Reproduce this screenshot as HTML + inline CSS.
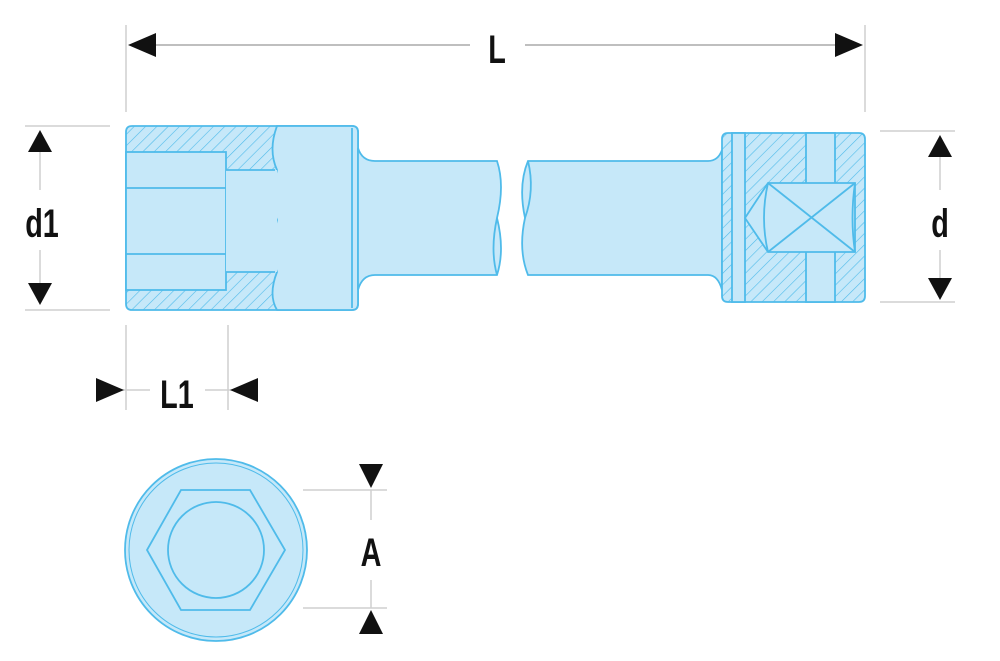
<!DOCTYPE html>
<html><head><style>html,body{margin:0;padding:0;background:#fff}svg{display:block}</style></head>
<body>
<svg width="1000" height="661" viewBox="0 0 1000 661" xmlns="http://www.w3.org/2000/svg">
<defs>
<pattern id="h" width="8" height="8" patternUnits="userSpaceOnUse" patternTransform="rotate(45)">
<rect width="8" height="8" fill="#c6e8f9"/><line x1="0" y1="0" x2="0" y2="8" stroke="#4fbbea" stroke-width="1.2"/>
</pattern>
</defs>
<g stroke="#cfcfcf" stroke-width="1.5" fill="none">
<line x1="126" y1="25" x2="126" y2="112"/><line x1="865" y1="25" x2="865" y2="112"/>
<line x1="25" y1="126" x2="110" y2="126"/><line x1="25" y1="310" x2="110" y2="310"/>
<line x1="880" y1="131" x2="955" y2="131"/><line x1="880" y1="302" x2="955" y2="302"/>
<line x1="126" y1="325" x2="126" y2="410"/><line x1="228" y1="325" x2="228" y2="410"/>
<line x1="303" y1="490" x2="387" y2="490"/><line x1="303" y1="608" x2="387" y2="608"/>
<line x1="155" y1="45" x2="470" y2="45" stroke="#aaa"/><line x1="525" y1="45" x2="838" y2="45" stroke="#aaa"/>
<line x1="40" y1="152" x2="40" y2="190"/><line x1="40" y1="250" x2="40" y2="285"/>
<line x1="940" y1="155" x2="940" y2="190"/><line x1="940" y1="250" x2="940" y2="278"/>
<line x1="371" y1="490" x2="371" y2="520"/><line x1="371" y1="580" x2="371" y2="608"/>
<line x1="120" y1="390" x2="150" y2="390"/><line x1="205" y1="390" x2="235" y2="390"/>
</g>
<g fill="#111">
<polygon points="128,45 156,33 156,57"/><polygon points="863,45 835,33 835,57"/>
<polygon points="40,130 28,152 52,152"/><polygon points="40,305 28,283 52,283"/>
<polygon points="940,135 928,157 952,157"/><polygon points="940,300 928,278 952,278"/>
<polygon points="124,390 96,378 96,402"/><polygon points="230,390 258,378 258,402"/>
<polygon points="371,488 359,464 383,464"/><polygon points="371,610 359,634 383,634"/>
</g>
<g font-family="Liberation Sans, sans-serif" font-size="40" font-weight="bold" fill="#111" text-anchor="middle">
<text x="497" y="63" transform="translate(497 0) scale(0.72 1) translate(-497 0)">L</text>
<text x="42" y="237" transform="translate(42 0) scale(0.72 1) translate(-42 0)">d1</text>
<text x="940" y="237" transform="translate(940 0) scale(0.72 1) translate(-940 0)">d</text>
<text x="177" y="408" transform="translate(177 0) scale(0.72 1) translate(-177 0)">L1</text>
<text x="371" y="566" transform="translate(371 0) scale(0.72 1) translate(-371 0)">A</text>
</g>
<g stroke="#4fbbea" stroke-width="1.8">
<path d="M132,126 H352 Q358,126 358,132 V304 Q358,310 352,310 H132 Q126,310 126,304 V132 Q126,126 132,126Z" fill="url(#h)"/>
<path d="M277,126 Q268,150 277,170 Q268,200 277,220 Q268,250 277,272 Q268,295 277,310 H352 Q358,310 358,304 V132 Q358,126 352,126Z" fill="#c6e8f9"/>
<rect x="126" y="152" width="100" height="138" fill="#c6e8f9"/>
<rect x="226" y="170" width="51" height="102" fill="#c6e8f9" stroke="none"/>
<line x1="226" y1="170" x2="275" y2="170"/><line x1="226" y1="272" x2="275" y2="272"/>
<line x1="126" y1="188" x2="226" y2="188"/><line x1="126" y1="254" x2="226" y2="254"/>
<line x1="352" y1="128" x2="352" y2="308"/>
<path d="M358,148 Q362,161 375,161 H497 Q505,185 497,218 Q505,250 497,275 H375 Q362,275 358,290Z" fill="#c6e8f9"/>
<path d="M497,218 Q490,250 497,275" fill="none"/>
<path d="M528,161 H708 Q718,161 722,150 V290 Q718,275 708,275 H528 Q518,250 525,218 Q518,185 528,161Z" fill="#c6e8f9"/>
<path d="M528,161 Q535,190 525,218" fill="none"/>
<path d="M728,133 H859 Q865,133 865,139 V296 Q865,302 859,302 H728 Q722,302 722,296 V139 Q722,133 728,133Z" fill="url(#h)"/>
<rect x="806" y="133" width="29" height="169" fill="#c6e8f9"/>
<rect x="732" y="133" width="13" height="169" fill="#c6e8f9"/>
<path d="M768,183 H855 V252 H768 L745,218Z" fill="#c6e8f9"/>
<line x1="768" y1="183" x2="855" y2="252"/><line x1="768" y1="252" x2="855" y2="183"/>
<path d="M768,183 Q760,218 768,252" fill="none"/>
<path d="M855,183 Q850,218 855,252" fill="none"/>
<circle cx="216" cy="550" r="91" fill="#c6e8f9"/>
<circle cx="216" cy="550" r="87" fill="none" stroke-width="1"/>
<polygon points="147,550 181,490 250,490 285,550 250,610 181,610" fill="#c6e8f9"/>
<circle cx="216" cy="550" r="48" fill="#c6e8f9"/>
</g>
</svg>
</body></html>
